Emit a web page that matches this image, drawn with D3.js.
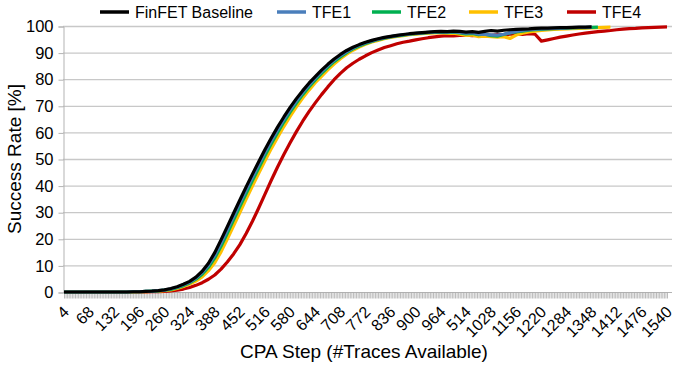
<!DOCTYPE html>
<html>
<head>
<meta charset="utf-8">
<script src="https://cdn.jsdelivr.net/npm/d3@7"></script>
<style>
  body { margin: 0; background: #fff; }
  svg { font-family: "Liberation Sans", Arial, sans-serif; }
</style>
</head>
<body>
<div id="chart"></div>
<script>
const width = 675;
const height = 366;
const marginTop = 26;
const marginLeft = 63;
const plotRight = 672;
const plotBottom = 292;

// CPA steps at which the values were read (every 16 traces)
const sampleSteps = [4, 20, 36, 52, 68, 84, 100, 116, 132, 148, 164, 180,
  196, 212, 228, 244, 260, 276, 292, 308, 324, 340, 356, 372, 388, 404, 420, 436, 452, 468, 484, 500,
  516, 532, 548, 564, 580, 596, 612, 628, 644, 660, 676, 692, 708, 724, 740, 756, 772, 788, 804, 820,
  836, 852, 868, 884, 900, 916, 932, 948, 964, 980, 996, 1012, 1028, 1044, 1060, 1076, 1092, 1108, 1124, 1140,
  1156, 1172, 1188, 1204, 1220, 1236, 1252, 1268, 1284, 1300, 1316, 1332, 1348, 1364, 1380, 1396, 1412, 1428, 1444, 1460,
  1476, 1492, 1508, 1524, 1540];

const seriesNames = ["FinFET Baseline", "TFE1", "TFE2", "TFE3", "TFE4"];

const finfetBaseline = [0, 0, 0, 0, 0, 0, 0, 0, 0, 0, 0, 0.1,
  0.1, 0.2, 0.3, 0.5, 0.8, 1.3, 2.0, 2.9, 4.0, 5.6,
  7.8, 10.8, 14.8, 19.6, 24.6, 29.6, 34.6, 39.5, 44.3, 49.0,
  53.6, 57.9, 62.0, 65.8, 69.4, 72.7, 75.7, 78.5, 81.0, 83.4,
  85.6, 87.6, 89.3, 90.8, 92.0, 93.0, 93.9, 94.6, 95.2, 95.7,
  96.1, 96.5, 96.8, 97.1, 97.3, 97.5, 97.7, 97.9, 98.0, 97.9,
  98.1, 98.0, 97.7, 97.9, 97.6, 98.0, 98.3, 98.1, 98.4, 98.6,
  98.7, 98.8, 98.9, 99.1, 99.2, 99.2, 99.3, 99.4, 99.4, 99.5,
  99.6, 99.6, 99.7];

const tfe1 = [0, 0, 0, 0, 0, 0, 0, 0, 0, 0, 0, 0.1,
  0.1, 0.2, 0.3, 0.5, 0.7, 1.2, 1.8, 2.7, 3.7, 5.2,
  7.3, 10.1, 13.8, 18.4, 23.4, 28.4, 33.4, 38.3, 43.1, 47.8,
  52.5, 56.8, 61.0, 64.9, 68.5, 71.9, 75.0, 77.8, 80.4, 82.8,
  85.1, 87.1, 88.9, 90.4, 91.7, 92.8, 93.7, 94.4, 95.0, 95.6,
  96.0, 96.4, 96.7, 97.0, 97.2, 97.4, 97.6, 97.8, 97.9, 97.7,
  97.9, 97.6, 97.3, 97.5, 96.9, 96.8, 96.7, 96.6, 96.9, 97.5,
  98.0, 98.3, 98.6, 98.8, 98.9, 99.0, 99.1, 99.2, 99.3, 99.4,
  99.5, 99.5, 99.6];

const tfe2 = [0, 0, 0, 0, 0, 0, 0, 0, 0, 0, 0, 0.1,
  0.1, 0.2, 0.3, 0.4, 0.7, 1.0, 1.6, 2.4, 3.4, 4.8,
  6.7, 9.3, 12.8, 17.2, 22.1, 27.1, 32.1, 37.0, 41.9, 46.6,
  51.3, 55.7, 59.9, 63.9, 67.6, 71.0, 74.2, 77.1, 79.7, 82.2,
  84.5, 86.6, 88.4, 90.0, 91.4, 92.5, 93.4, 94.2, 94.9, 95.4,
  95.9, 96.3, 96.6, 96.9, 97.1, 97.3, 97.5, 97.6, 97.7, 97.5,
  97.7, 97.4, 97.0, 97.2, 96.7, 96.9, 96.4, 96.2, 96.8, 97.4,
  97.8, 98.1, 98.4, 98.6, 98.7, 98.9, 99.0, 99.1, 99.2, 99.3,
  99.4, 99.4, 99.5, 99.6];

const tfe3 = [0, 0, 0, 0, 0, 0, 0, 0, 0, 0, 0, 0,
  0.1, 0.1, 0.2, 0.3, 0.5, 0.8, 1.3, 2.1, 3.0, 4.1,
  5.7, 8.0, 11.0, 15.1, 19.9, 24.9, 29.9, 34.9, 39.8, 44.6,
  49.3, 53.9, 58.1, 62.2, 66.0, 69.6, 72.9, 75.9, 78.7, 81.1,
  83.5, 85.7, 87.7, 89.4, 90.9, 92.1, 93.1, 94.0, 94.6, 95.2,
  95.7, 96.1, 96.4, 96.7, 96.9, 97.1, 97.3, 97.4, 97.5, 97.2,
  97.3, 96.9, 96.5, 96.6, 96.0, 96.2, 96.0, 95.8, 96.0, 95.3,
  96.6, 97.3, 97.8, 98.1, 98.3, 98.5, 98.7, 98.8, 98.9, 99.0,
  99.1, 99.2, 99.3, 99.4, 99.5, 99.6];

const tfe4 = [0, 0, 0, 0, 0, 0, 0, 0, 0, 0, 0, 0,
  0, 0, 0.1, 0.1, 0.2, 0.4, 0.7, 1.1, 1.7, 2.5,
  3.5, 4.8, 6.4, 8.6, 11.3, 14.3, 17.8, 22.0, 26.6, 31.6,
  36.8, 42.0, 47.0, 51.7, 56.1, 60.3, 64.2, 67.8, 71.1, 74.2,
  77.1, 79.8, 82.2, 84.3, 86.0, 87.5, 88.8, 90.0, 91.0, 91.9,
  92.6, 93.3, 93.9, 94.3, 94.8, 95.2, 95.6, 95.9, 96.2, 96.4,
  96.3, 96.5, 96.6, 96.4, 96.5, 96.7, 96.5, 96.8, 96.6, 96.9,
  97.0, 96.8, 97.1, 96.9, 94.3, 94.8, 95.3, 95.8, 96.2, 96.6,
  97.0, 97.3, 97.6, 97.9, 98.1, 98.3, 98.6, 98.8, 99.0, 99.1,
  99.3, 99.4, 99.5, 99.6, 99.7];

const tickLabels = ["4", "68", "132", "196", "260", "324", "388", "452", "516", "580", "644", "708",
  "772", "836", "900", "964", "514", "1028", "1156", "1220", "1284", "1348", "1412", "1476", "1540"];

const yTicks = [0, 10, 20, 30, 40, 50, 60, 70, 80, 90, 100];

const colors = ["#000000", "#4a7ebb", "#00b050", "#ffc000", "#c00000"];

// every CPA step on the category axis (4 .. 1540, one per 4 traces)
const categories = d3.range(4, 1541, 4);

const xScale = d3.scalePoint()
    .domain(categories)
    .range([64, 667]);

const yScale = d3.scaleLinear()
    .domain([0, 100])
    .range([plotBottom, marginTop]);

const svg = d3.create("svg")
    .attr("width", width)
    .attr("height", height);

// gridlines
svg.append("g")
    .selectAll("line")
    .data(yTicks.slice(1))
    .join("line")
    .attr("x1", marginLeft)
    .attr("x2", plotRight)
    .attr("y1", d => yScale(d) + 0.5)
    .attr("y2", d => yScale(d) + 0.5)
    .attr("stroke", "#c8c8c8")
    .attr("stroke-width", 1.3);

// y axis
const yAxis = svg.append("g")
    .attr("transform", `translate(${marginLeft + 0.5},0.5)`)
    .call(d3.axisLeft(yScale).tickValues(yTicks).tickSize(5).tickPadding(5));
yAxis.select(".domain").attr("stroke", "#b3b3b3");
yAxis.selectAll(".tick line").attr("stroke", "#b3b3b3");
yAxis.selectAll("text")
    .attr("font-size", 16.5)
    .attr("font-family", "Liberation Sans, Arial, sans-serif")
    .attr("fill", "#000");

// dense category ticks under the x axis
const xMinor = svg.append("g")
    .attr("transform", `translate(0,${plotBottom + 0.5})`)
    .call(d3.axisBottom(xScale).tickValues(categories).tickSize(6).tickFormat(""));
xMinor.select(".domain").attr("stroke", "#b3b3b3").attr("d", `M${marginLeft},0H${plotRight}`);
xMinor.selectAll(".tick line").attr("stroke", "#aaaaaa").attr("stroke-width", 0.8);

// x tick labels, one per 16 categories
const labelCats = tickLabels.map((t, i) => categories[i * 16]);
svg.append("g")
    .selectAll("text")
    .data(tickLabels)
    .join("text")
    .attr("transform", (d, i) => `translate(${xScale(labelCats[i]) + 6},${plotBottom + 21}) rotate(-45)`)
    .attr("text-anchor", "end")
    .attr("font-size", 16)
    .text(d => d);

// series lines
const allSeries = [finfetBaseline, tfe1, tfe2, tfe3, tfe4];
const line = d3.line()
    .x((d, i) => xScale(sampleSteps[i]))
    .y(d => yScale(d));

for (let k = allSeries.length - 1; k >= 0; k--) {
    svg.append("path")
        .datum(allSeries[k])
        .attr("fill", "none")
        .attr("stroke", colors[k])
        .attr("stroke-width", 3.2)
        .attr("stroke-linejoin", "round")
        .attr("d", line);
}

// axis titles
svg.append("text")
    .attr("text-anchor", "middle")
    .attr("x", 364)
    .attr("y", 358)
    .attr("font-size", 19)
    .text("CPA Step (#Traces Available)");

svg.append("text")
    .attr("text-anchor", "middle")
    .attr("transform", `translate(21,${(marginTop + plotBottom) / 2}) rotate(-90)`)
    .attr("font-size", 19)
    .text("Success Rate [%]");

// legend
const legendX = [100, 277, 372, 469, 567];
const legend = svg.append("g");
seriesNames.forEach((name, i) => {
    legend.append("line")
        .attr("x1", legendX[i])
        .attr("x2", legendX[i] + 29)
        .attr("y1", 12)
        .attr("y2", 12)
        .attr("stroke", colors[i])
        .attr("stroke-width", 3.5);
    legend.append("text")
        .attr("x", legendX[i] + 35)
        .attr("y", 18)
        .attr("font-size", 16)
        .text(name);
});

document.getElementById("chart").append(svg.node());
</script>
</body>
</html>
